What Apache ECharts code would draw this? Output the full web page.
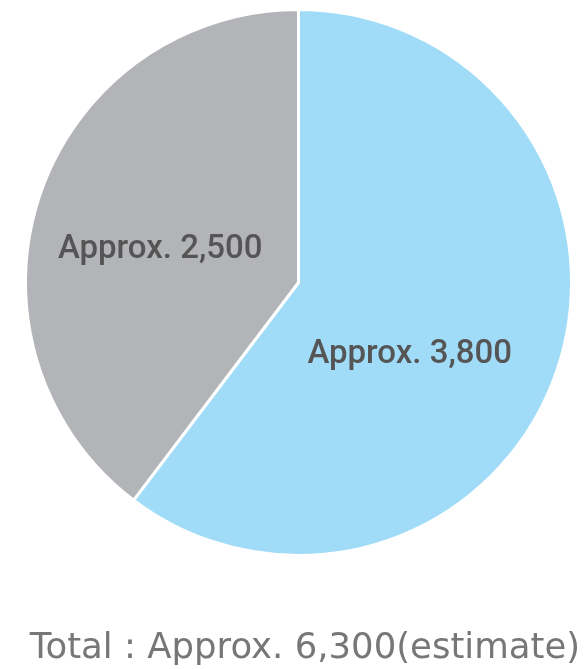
<!DOCTYPE html>
<html>
<head>
<meta charset="utf-8">
<script src="https://cdn.jsdelivr.net/npm/echarts@6/dist/echarts.min.js"></script>
<style>
  html, body { margin: 0; padding: 0; background: #ffffff; }
  #chart { width: 584px; height: 669px; }
</style>
</head>
<body>
<div id="chart"></div>
<script>
// Estimated breakdown, clockwise from 12 o'clock
const categories = ['Group A', 'Group B'];
const values = [3800, 2500];
const labelTexts = ['Approx. 3,800', 'Approx. 2,500'];
const totalText = 'Total : Approx. 6,300(estimate)';

const colors = ['#a0dcf7', '#b3b4b8'];
// small nudges for the in-slice labels, in pixels
const labelShift = [[-21, 28], [-6, 12]];

const chart = echarts.init(document.getElementById('chart'), null, { renderer: 'canvas' });

chart.setOption({
  animation: false,
  backgroundColor: '#ffffff',
  title: {
    text: totalText,
    left: 300,
    textAlign: 'center',
    top: 626,
    textStyle: {
      fontFamily: 'DejaVu Sans',
      fontWeight: 'normal',
      fontSize: 35.5,
      color: '#777777'
    }
  },
  series: [{
    type: 'pie',
    center: [298.5, 282.5],
    radius: [0, 273],
    startAngle: 90,
    clockwise: true,
    silent: true,
    itemStyle: { borderColor: '#ffffff', borderWidth: 3 },
    label: {
      position: 'inside',
      fontFamily: 'Roboto',
      fontWeight: 500,
      fontSize: 33,
      color: '#555555'
    },
    labelLine: { show: false },
    labelLayout: function (params) {
      const s = labelShift[params.dataIndex];
      return { dx: s[0], dy: s[1] };
    },
    data: categories.map((name, i) => ({
      name,
      value: values[i],
      itemStyle: { color: colors[i] },
      label: { formatter: labelTexts[i] }
    }))
  }]
});
</script>
</body>
</html>
